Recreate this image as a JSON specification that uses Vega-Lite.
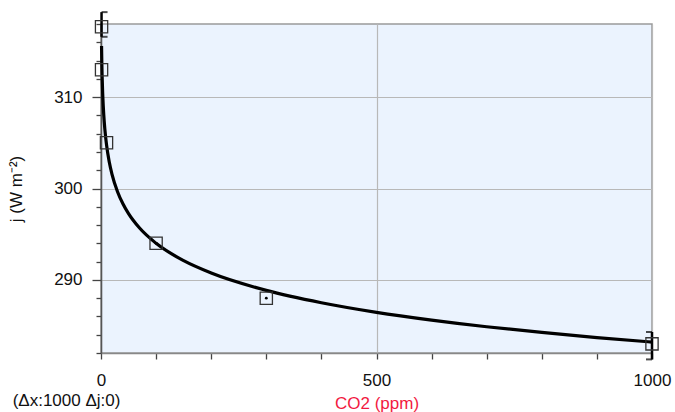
{
  "$schema": "https://vega.github.io/schema/vega-lite/v6.json",
  "autosize": "none",
  "width": 551,
  "height": 329,
  "padding": {"left": 101, "top": 24, "right": 23, "bottom": 59},
  "background": "white",
  "title": {
    "text": "(Δx:1000 Δj:0)",
    "orient": "bottom",
    "anchor": "start",
    "frame": "bounds",
    "offset": -18,
    "dx": 5,
    "font": "Liberation Sans",
    "fontSize": 17,
    "fontWeight": "normal",
    "color": "#111111"
  },
  "config": {
    "view": {"fill": "#EBF3FE", "stroke": "#9a9a9a", "strokeWidth": 1.5},
    "axis": {
      "labelFont": "Liberation Sans",
      "labelFontSize": 17,
      "labelColor": "#111111",
      "titleFont": "Liberation Sans",
      "titleFontWeight": "normal",
      "tickColor": "#444444",
      "tickWidth": 1.3,
      "gridColor": "#b8b8b8",
      "gridWidth": 1.2,
      "domainColor": "#555555",
      "domainWidth": 1.5
    }
  },
  "datasets": {
    "curve": [
      {"x": 1, "j": 315.6}, {"x": 1.5, "j": 313.7}, {"x": 2, "j": 312.35}, {"x": 3, "j": 310.45},
      {"x": 4, "j": 309.1}, {"x": 5, "j": 308.05}, {"x": 7, "j": 306.47}, {"x": 10, "j": 304.8},
      {"x": 15, "j": 302.9}, {"x": 20, "j": 301.55}, {"x": 30, "j": 299.65}, {"x": 40, "j": 298.3},
      {"x": 50, "j": 297.25}, {"x": 70, "j": 295.67}, {"x": 100, "j": 294.0}, {"x": 150, "j": 292.1},
      {"x": 200, "j": 290.75}, {"x": 300, "j": 288.85}, {"x": 400, "j": 287.5}, {"x": 500, "j": 286.45},
      {"x": 600, "j": 285.6}, {"x": 700, "j": 284.87}, {"x": 800, "j": 284.25}, {"x": 900, "j": 283.69},
      {"x": 1000, "j": 283.2}
    ],
    "points": [
      {"x": 1, "j": 317.7}, {"x": 1, "j": 313.0}, {"x": 10, "j": 305.0},
      {"x": 100, "j": 294.0}, {"x": 300, "j": 288.0}, {"x": 1000, "j": 283.0}
    ],
    "dots": [
      {"x": 100, "j": 294.0}, {"x": 300, "j": 288.0}
    ],
    "errbars": [
      {"x": 1, "lo": 316.6, "hi": 319.3, "edge": "left"},
      {"x": 1000, "lo": 281.3, "hi": 284.3, "edge": "right"}
    ]
  },
  "layer": [
    {
      "data": {"name": "curve"},
      "mark": {"type": "line", "color": "#000000", "strokeWidth": 3.2, "interpolate": "monotone"},
      "encoding": {
        "x": {
          "field": "x", "type": "quantitative",
          "scale": {"domain": [0, 1000], "nice": false, "zero": false},
          "title": "CO2 (ppm)",
          "axis": {
            "values": [0, 100, 200, 300, 400, 500, 600, 700, 800, 900, 1000],
            "tickCount": 50,
            "format": "d",
            "labelExpr": "datum.value % 500 === 0 ? datum.label : ''",
            "tickSize": 6,
            "labelPadding": 13,
            "labelFlush": false,
            "titleColor": "#F2193F",
            "titleFontSize": 17,
            "titlePadding": 7,
            "gridOpacity": {"condition": {"test": "datum.value % 500 === 0", "value": 1}, "value": 0},
            "domainColor": "#888888"
          }
        },
        "y": {
          "field": "j", "type": "quantitative",
          "scale": {"domain": [282, 318], "nice": false, "zero": false},
          "title": "j (W m⁻²)",
          "axis": {
            "values": [282, 284, 286, 288, 290, 292, 294, 296, 298, 300, 302, 304, 306, 308, 310, 312, 314, 316, 318],
            "tickCount": 50,
            "labelExpr": "datum.value % 10 === 0 ? datum.label : ''",
            "tickSize": {"condition": {"test": "datum.value % 10 === 0", "value": 9}, "value": 5},
            "labelPadding": 10,
            "titleFontSize": 17,
            "titleColor": "#111111",
            "titlePadding": 28,
            "gridOpacity": {"condition": {"test": "datum.value % 10 === 0", "value": 1}, "value": 0}
          }
        }
      }
    },
    {
      "data": {"name": "errbars"},
      "mark": {"type": "rule", "color": "#000000", "strokeWidth": 2.5},
      "encoding": {
        "x": {"field": "x", "type": "quantitative", "title": "CO2 (ppm)"},
        "y": {"field": "lo", "type": "quantitative", "title": "j (W m⁻²)"},
        "y2": {"field": "hi"}
      }
    },
    {
      "data": {"name": "errbars"},
      "transform": [
        {"fold": ["lo", "hi"], "as": ["end", "v"]},
        {"filter": "datum.edge === 'left'"}
      ],
      "mark": {"type": "tick", "orient": "horizontal", "color": "#000000", "size": 6, "thickness": 2, "xOffset": 3},
      "encoding": {
        "x": {"field": "x", "type": "quantitative", "title": "CO2 (ppm)"},
        "y": {"field": "v", "type": "quantitative", "title": "j (W m⁻²)"}
      }
    },
    {
      "data": {"name": "errbars"},
      "transform": [
        {"fold": ["lo", "hi"], "as": ["end", "v"]},
        {"filter": "datum.edge === 'right'"}
      ],
      "mark": {"type": "tick", "orient": "horizontal", "color": "#000000", "size": 6, "thickness": 2, "xOffset": -3},
      "encoding": {
        "x": {"field": "x", "type": "quantitative", "title": "CO2 (ppm)"},
        "y": {"field": "v", "type": "quantitative", "title": "j (W m⁻²)"}
      }
    },
    {
      "data": {"name": "points"},
      "mark": {"type": "point", "shape": "square", "filled": false, "size": 150, "stroke": "#333333", "strokeWidth": 1.3, "opacity": 1},
      "encoding": {
        "x": {"field": "x", "type": "quantitative", "title": "CO2 (ppm)"},
        "y": {"field": "j", "type": "quantitative", "title": "j (W m⁻²)"}
      }
    },
    {
      "data": {"name": "dots"},
      "mark": {"type": "circle", "size": 8, "color": "#000000", "opacity": 1},
      "encoding": {
        "x": {"field": "x", "type": "quantitative", "title": "CO2 (ppm)"},
        "y": {"field": "j", "type": "quantitative", "title": "j (W m⁻²)"}
      }
    }
  ]
}
